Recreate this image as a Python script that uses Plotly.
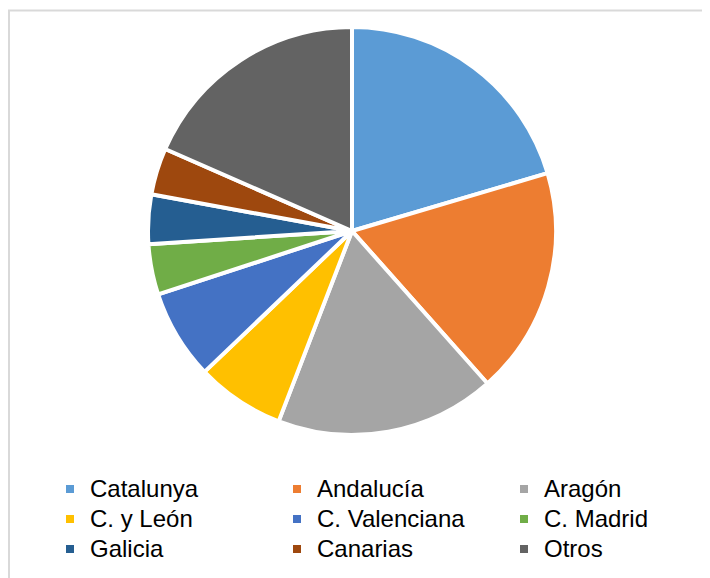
import plotly.graph_objects as go

#data
REGIONS = ['Catalunya', 'Andalucía', 'Aragón', 'C. y León', 'C. Valenciana',
           'C. Madrid', 'Galicia', 'Canarias', 'Otros']
SHARES = [20.4, 18.0, 17.4, 7.0, 7.1, 4.0, 3.9, 3.7, 18.4]
COLORS = ['#5B9BD5', '#ED7D31', '#A5A5A5', '#FFC000', '#4472C4',
          '#70AD47', '#255E91', '#9E480E', '#636363']

#figure settings (page body adds an 8px offset)
W, H = 710, 578
CX, CY, R = 344, 223, 204

#bigger legend text than the row spacing allows
labels = ['<span style="font-size:24px">%s</span>' % r for r in REGIONS]

fig = go.Figure(go.Pie(labels=labels, values=SHARES,
                       sort=False, direction='clockwise', rotation=0,
                       textinfo='none', hoverinfo='label+percent',
                       marker={'colors': COLORS, 'line': {'color': 'white', 'width': 4}},
                       domain={'x': [(CX - R) / W, (CX + R) / W],
                               'y': [(H - CY - R) / H, (H - CY + R) / H]}))

fig.update_layout(width=W, height=H,
                  margin={'l': 0, 'r': 0, 't': 0, 'b': 0, 'autoexpand': False},
                  paper_bgcolor='white', plot_bgcolor='white',
                  font={'family': 'Liberation Sans, Arial', 'color': 'black'},
                  legend={'orientation': 'h', 'x': 42 / W, 'xanchor': 'left',
                          'y': 0.2024, 'yanchor': 'top',
                          'font': {'size': 20.8}, 'entrywidth': 182,
                          'traceorder': 'normal'})

#chart area border
fig.add_shape(type='rect', xref='paper', yref='paper',
              x0=1 / W, x1=1.1, y0=-0.1, y1=(H - 2.5) / H,
              line={'color': '#d9d9d9', 'width': 2})

fig.write_html('out.html')
